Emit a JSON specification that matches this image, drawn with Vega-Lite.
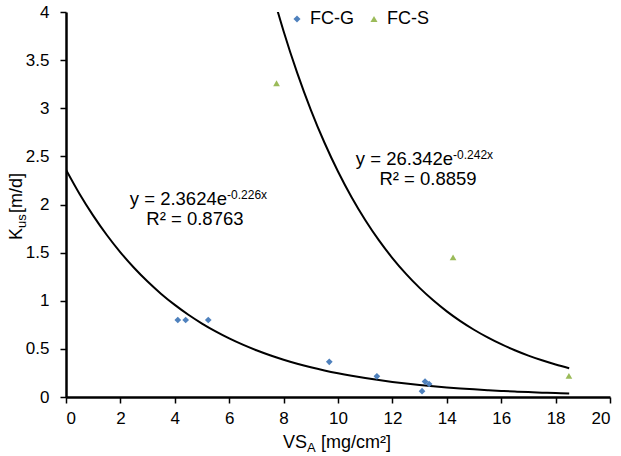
{
  "$schema": "https://vega.github.io/schema/vega-lite/v6.json",
  "autosize": "none",
  "width": 544,
  "height": 385,
  "padding": {"left": 66, "top": 12, "right": 11, "bottom": 59},
  "config": {
    "view": {"stroke": null},
    "font": "Liberation Sans",
    "axis": {"grid": false, "domainColor": "black", "domainWidth": 2.5, "tickColor": "black", "tickWidth": 1.5, "tickSize": 6, "labelColor": "black", "labelFont": "Liberation Sans", "labelFontSize": 17, "title": null}
  },
  "datasets": {
    "points": [
      {"series": "FC-G", "x": 4.11, "y": 0.80},
      {"series": "FC-G", "x": 4.40, "y": 0.80},
      {"series": "FC-G", "x": 5.23, "y": 0.80},
      {"series": "FC-G", "x": 9.68, "y": 0.365},
      {"series": "FC-G", "x": 11.43, "y": 0.215},
      {"series": "FC-G", "x": 13.09, "y": 0.06},
      {"series": "FC-G", "x": 13.20, "y": 0.16},
      {"series": "FC-G", "x": 13.35, "y": 0.135},
      {"series": "FC-S", "x": 7.74, "y": 3.26},
      {"series": "FC-S", "x": 14.23, "y": 1.45},
      {"series": "FC-S", "x": 18.49, "y": 0.22}
    ],
    "curves": [
      {"series": "FC-G", "x": 0, "y": 2.3624},
      {"series": "FC-G", "x": 0.5, "y": 2.1100},
      {"series": "FC-G", "x": 1, "y": 1.8845},
      {"series": "FC-G", "x": 1.5, "y": 1.6832},
      {"series": "FC-G", "x": 2, "y": 1.5033},
      {"series": "FC-G", "x": 2.5, "y": 1.3427},
      {"series": "FC-G", "x": 3, "y": 1.1992},
      {"series": "FC-G", "x": 3.5, "y": 1.0711},
      {"series": "FC-G", "x": 4, "y": 0.9567},
      {"series": "FC-G", "x": 4.5, "y": 0.8544},
      {"series": "FC-G", "x": 5, "y": 0.7631},
      {"series": "FC-G", "x": 5.5, "y": 0.6816},
      {"series": "FC-G", "x": 6, "y": 0.6088},
      {"series": "FC-G", "x": 6.5, "y": 0.5437},
      {"series": "FC-G", "x": 7, "y": 0.4856},
      {"series": "FC-G", "x": 7.5, "y": 0.4337},
      {"series": "FC-G", "x": 8, "y": 0.3874},
      {"series": "FC-G", "x": 8.5, "y": 0.3460},
      {"series": "FC-G", "x": 9, "y": 0.3090},
      {"series": "FC-G", "x": 9.5, "y": 0.2760},
      {"series": "FC-G", "x": 10, "y": 0.2465},
      {"series": "FC-G", "x": 10.5, "y": 0.2202},
      {"series": "FC-G", "x": 11, "y": 0.1966},
      {"series": "FC-G", "x": 11.5, "y": 0.1756},
      {"series": "FC-G", "x": 12, "y": 0.1569},
      {"series": "FC-G", "x": 12.5, "y": 0.1401},
      {"series": "FC-G", "x": 13, "y": 0.1251},
      {"series": "FC-G", "x": 13.5, "y": 0.1118},
      {"series": "FC-G", "x": 14, "y": 0.0998},
      {"series": "FC-G", "x": 14.5, "y": 0.0892},
      {"series": "FC-G", "x": 15, "y": 0.0796},
      {"series": "FC-G", "x": 15.5, "y": 0.0711},
      {"series": "FC-G", "x": 16, "y": 0.0635},
      {"series": "FC-G", "x": 16.5, "y": 0.0567},
      {"series": "FC-G", "x": 17, "y": 0.0507},
      {"series": "FC-G", "x": 17.5, "y": 0.0453},
      {"series": "FC-G", "x": 18, "y": 0.0404},
      {"series": "FC-G", "x": 18.5, "y": 0.0361},
      {"series": "FC-S", "x": 7.7, "y": 4.087},
      {"series": "FC-S", "x": 8, "y": 3.8006},
      {"series": "FC-S", "x": 8.5, "y": 3.3675},
      {"series": "FC-S", "x": 9, "y": 2.9840},
      {"series": "FC-S", "x": 9.5, "y": 2.6439},
      {"series": "FC-S", "x": 10, "y": 2.3424},
      {"series": "FC-S", "x": 10.5, "y": 2.0754},
      {"series": "FC-S", "x": 11, "y": 1.8390},
      {"series": "FC-S", "x": 11.5, "y": 1.6294},
      {"series": "FC-S", "x": 12, "y": 1.4436},
      {"series": "FC-S", "x": 12.5, "y": 1.2791},
      {"series": "FC-S", "x": 13, "y": 1.1335},
      {"series": "FC-S", "x": 13.5, "y": 1.0043},
      {"series": "FC-S", "x": 14, "y": 0.8898},
      {"series": "FC-S", "x": 14.5, "y": 0.7884},
      {"series": "FC-S", "x": 15, "y": 0.6986},
      {"series": "FC-S", "x": 15.5, "y": 0.6190},
      {"series": "FC-S", "x": 16, "y": 0.5484},
      {"series": "FC-S", "x": 16.5, "y": 0.4859},
      {"series": "FC-S", "x": 17, "y": 0.4305},
      {"series": "FC-S", "x": 17.5, "y": 0.3814},
      {"series": "FC-S", "x": 18, "y": 0.3380},
      {"series": "FC-S", "x": 18.5, "y": 0.2995}
    ],
    "main": [
      {"t": "y = 2.3624e", "x": 5.92, "y": 1.995},
      {"t": "y = 26.342e", "x": 14.23, "y": 2.41}
    ],
    "sup": [
      {"t": "-0.226x", "x": 5.92, "y": 1.995},
      {"t": "-0.242x", "x": 14.23, "y": 2.41}
    ],
    "r2": [
      {"t": "R² = 0.8763", "x": 4.74, "y": 1.787},
      {"t": "R² = 0.8859", "x": 13.31, "y": 2.20}
    ],
    "xtitle": [{"x": 8.86, "y": -0.53, "x2": 9.375}],
    "ytitle": [{"x": -1.62, "y": 1.756, "y2": 1.912}]
  },
  "layer": [
    {
      "data": {"name": "curves"},
      "mark": {"type": "line", "color": "black", "strokeWidth": 2, "clip": true, "interpolate": "monotone"},
      "encoding": {
        "x": {"field": "x", "type": "quantitative", "scale": {"domain": [0, 20], "nice": false, "zero": false}, "axis": {"values": [0, 2, 4, 6, 8, 10, 12, 14, 16, 18, 20], "labelPadding": 7}},
        "y": {"field": "y", "type": "quantitative", "scale": {"domain": [0, 4], "nice": false}, "axis": {"values": [0, 0.5, 1, 1.5, 2, 2.5, 3, 3.5, 4], "format": "~g", "labelPadding": 11}},
        "detail": {"field": "series"}
      }
    },
    {
      "data": {"name": "points"},
      "mark": {"type": "point", "filled": true, "opacity": 1, "size": 45},
      "encoding": {
        "x": {"field": "x", "type": "quantitative"},
        "y": {"field": "y", "type": "quantitative"},
        "color": {"field": "series", "type": "nominal", "scale": {"domain": ["FC-G", "FC-S"], "range": ["#4F81BD", "#9BBB59"]},
          "legend": {"orient": "none", "legendX": 222, "legendY": -2, "direction": "horizontal", "title": null, "labelFontSize": 18, "labelFont": "Liberation Sans", "labelColor": "black", "symbolSize": 50, "columnPadding": 11, "labelOffset": 4}},
        "shape": {"field": "series", "type": "nominal", "scale": {"domain": ["FC-G", "FC-S"], "range": ["diamond", "triangle-up"]},
          "legend": {"orient": "none", "legendX": 222, "legendY": -2, "direction": "horizontal", "title": null, "labelFontSize": 18, "labelFont": "Liberation Sans", "labelColor": "black", "symbolSize": 50, "columnPadding": 11, "labelOffset": 4}}
      }
    },
    {
      "data": {"name": "main"},
      "mark": {"type": "text", "align": "right", "baseline": "alphabetic", "fontSize": 18.5, "color": "black"},
      "encoding": {"x": {"field": "x", "type": "quantitative"}, "y": {"field": "y", "type": "quantitative"}, "text": {"field": "t"}}
    },
    {
      "data": {"name": "sup"},
      "mark": {"type": "text", "align": "left", "baseline": "alphabetic", "fontSize": 12, "dy": -6, "color": "black"},
      "encoding": {"x": {"field": "x", "type": "quantitative"}, "y": {"field": "y", "type": "quantitative"}, "text": {"field": "t"}}
    },
    {
      "data": {"name": "r2"},
      "mark": {"type": "text", "align": "center", "baseline": "alphabetic", "fontSize": 18.5, "color": "black"},
      "encoding": {"x": {"field": "x", "type": "quantitative"}, "y": {"field": "y", "type": "quantitative"}, "text": {"field": "t"}}
    },
    {
      "data": {"name": "xtitle"},
      "mark": {"type": "text", "align": "right", "baseline": "alphabetic", "fontSize": 18, "color": "black", "text": "VS", "clip": false},
      "encoding": {"x": {"field": "x", "type": "quantitative"}, "y": {"field": "y", "type": "quantitative"}}
    },
    {
      "data": {"name": "xtitle"},
      "mark": {"type": "text", "align": "left", "baseline": "alphabetic", "fontSize": 13, "dy": 4, "color": "black", "text": "A", "clip": false},
      "encoding": {"x": {"field": "x", "type": "quantitative"}, "y": {"field": "y", "type": "quantitative"}}
    },
    {
      "data": {"name": "xtitle"},
      "mark": {"type": "text", "align": "left", "baseline": "alphabetic", "fontSize": 18, "color": "black", "text": "[mg/cm²]", "clip": false},
      "encoding": {"x": {"field": "x2", "type": "quantitative"}, "y": {"field": "y", "type": "quantitative"}}
    },
    {
      "data": {"name": "ytitle"},
      "mark": {"type": "text", "align": "right", "baseline": "alphabetic", "angle": 270, "fontSize": 18, "color": "black", "text": "K", "clip": false},
      "encoding": {"x": {"field": "x", "type": "quantitative"}, "y": {"field": "y", "type": "quantitative"}}
    },
    {
      "data": {"name": "ytitle"},
      "mark": {"type": "text", "align": "left", "baseline": "alphabetic", "angle": 270, "fontSize": 13, "dy": 4, "color": "black", "text": "us", "clip": false},
      "encoding": {"x": {"field": "x", "type": "quantitative"}, "y": {"field": "y", "type": "quantitative"}}
    },
    {
      "data": {"name": "ytitle"},
      "mark": {"type": "text", "align": "left", "baseline": "alphabetic", "angle": 270, "fontSize": 18, "color": "black", "text": "[m/d]", "clip": false},
      "encoding": {"x": {"field": "x", "type": "quantitative"}, "y": {"field": "y2", "type": "quantitative"}}
    }
  ]
}
